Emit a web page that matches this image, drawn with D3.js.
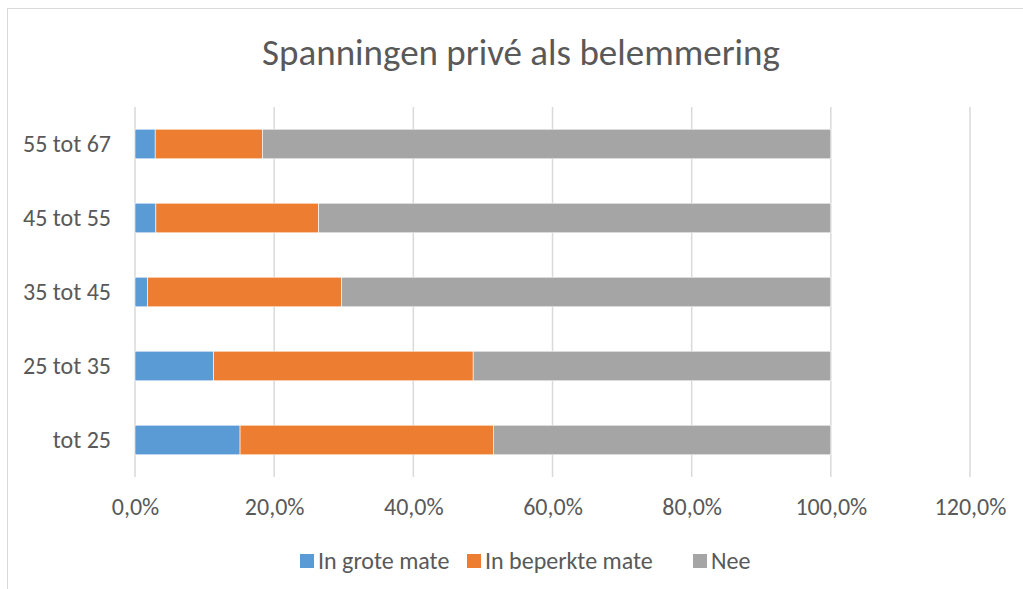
<!DOCTYPE html>
<meta charset="utf-8">
<style>
  body { margin: 0; background: #fff; }
  text { font-family: Calibri, Carlito, "Open Sans", sans-serif; fill: #595959; }
</style>
<body>
<script src="https://cdn.jsdelivr.net/npm/d3@7"></script>
<script>

    var width = 1023,
        height = 589;

    // data (percentages)
    var categories = ["55 tot 67", "45 tot 55", "35 tot 45", "25 tot 35", "tot 25"];
    var seriesNames = ["In grote mate", "In beperkte mate", "Nee"];
    var groteMate = [2.9, 3.0, 1.8, 11.3, 15.1];
    var beperkteMate = [15.4, 23.4, 27.9, 37.3, 36.4];
    var nee = [81.7, 73.6, 70.3, 51.4, 48.5];
    var xTicks = [0, 20, 40, 60, 80, 100, 120];
    var colors = ["#5b9bd5", "#ed7d31", "#a5a5a5"];

    var margin = {left: 135, right: 53, top: 107, bottom: 112};

    var svg = d3.select("body").append("svg")
            .attr("width", width)
            .attr("height", height);

    // chart border
    svg.append("rect")
            .attr("x", 7.5).attr("y", 8.5)
            .attr("width", 1030).attr("height", 600)
            .attr("fill", "none")
            .attr("stroke", "#d9d9d9")
            .attr("stroke-width", 1);

    var x = d3.scaleLinear()
            .domain([0, 120])
            .range([margin.left, width - margin.right]);

    var y = d3.scaleBand()
            .domain(categories)
            .range([margin.top, height - margin.bottom])
            .paddingInner(0.6)
            .paddingOuter(0.3);

    // table for the stack
    var rows = categories.map(function(c, i) {
        return {cat: c, "In grote mate": groteMate[i], "In beperkte mate": beperkteMate[i], "Nee": nee[i]};
    });
    var stacked = d3.stack().keys(seriesNames)(rows);

    // gridlines
    svg.append("g")
            .selectAll("line")
            .data(xTicks)
            .enter().append("line")
            .attr("x1", function(d) { return x(d); })
            .attr("x2", function(d) { return x(d); })
            .attr("y1", margin.top)
            .attr("y2", height - margin.bottom)
            .attr("stroke", "#d9d9d9")
            .attr("stroke-width", 1.5);

    // bars
    svg.append("g")
            .selectAll("g")
            .data(stacked)
            .enter().append("g")
            .attr("fill", function(d, i) { return colors[i]; })
            .selectAll("rect")
            .data(function(d) { return d; })
            .enter().append("rect")
            .attr("x", function(d) { return x(d[0]); })
            .attr("width", function(d) { return x(d[1]) - x(d[0]); })
            .attr("y", function(d) { return y(d.data.cat); })
            .attr("height", y.bandwidth())
            .attr("stroke", "#fff")
            .attr("stroke-width", 0.6);

    // x axis labels
    var xAxis = d3.axisBottom(x)
            .tickValues(xTicks)
            .tickSize(0)
            .tickPadding(21)
            .tickFormat(function(d) { return d3.format(".1f")(d).replace(".", ",") + "%"; });

    svg.append("g")
            .attr("transform", "translate(0," + (height - margin.bottom) + ")")
            .call(xAxis)
            .call(function(g) { g.select(".domain").remove(); })
            .selectAll("text")
            .style("font-size", "24px")
            .attr("fill", "#595959");

    // y axis labels
    var yAxis = d3.axisLeft(y).tickSize(0).tickPadding(24);
    svg.append("g")
            .attr("transform", "translate(" + margin.left + ",0)")
            .call(yAxis)
            .call(function(g) { g.select(".domain").remove(); })
            .selectAll("text")
            .style("font-size", "24px")
            .attr("fill", "#595959");

    // title
    svg.append("text")
            .attr("x", 521)
            .attr("y", 65)
            .attr("text-anchor", "middle")
            .style("font-size", "37px")
            .text("Spanningen privé als belemmering");

    // legend
    var legendX = [300, 467, 693];
    var legend = svg.append("g")
            .selectAll("g")
            .data(seriesNames)
            .enter().append("g")
            .attr("transform", function(d, i) { return "translate(" + legendX[i] + ",554)"; });
    legend.append("rect")
            .attr("width", 14).attr("height", 14)
            .attr("fill", function(d, i) { return colors[i]; });
    legend.append("text")
            .attr("x", 18)
            .attr("y", 7)
            .attr("dy", "0.35em")
            .style("font-size", "24px")
            .text(function(d) { return d; });

</script>
